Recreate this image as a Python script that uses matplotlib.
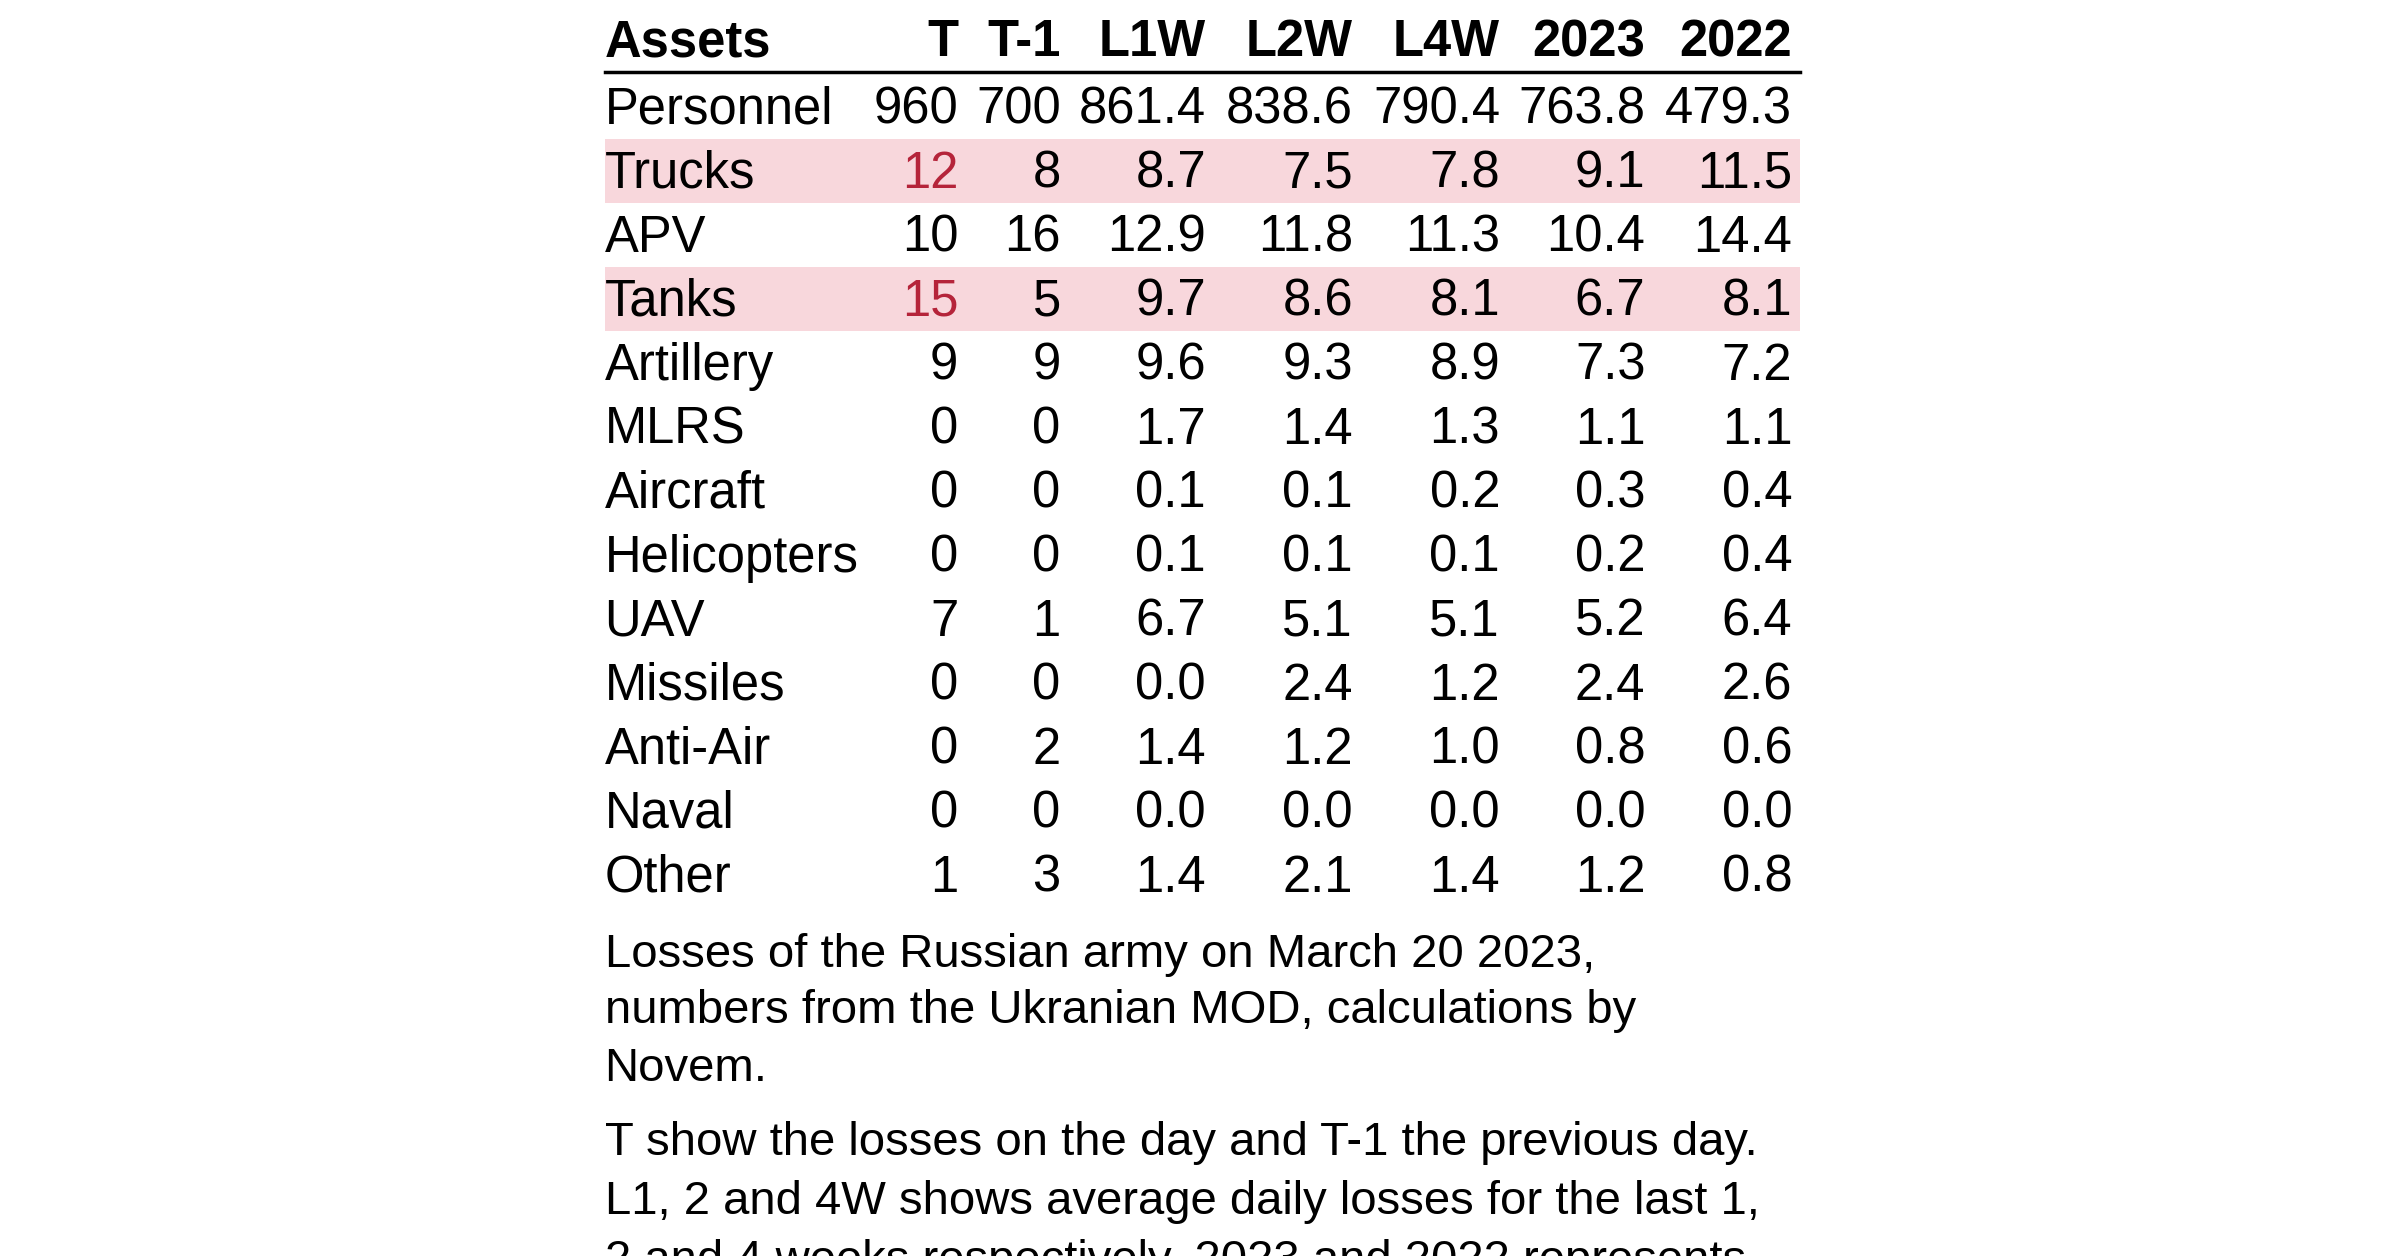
import matplotlib
matplotlib.use("Agg")
import matplotlib.pyplot as plt
from matplotlib.patches import Rectangle
from matplotlib.lines import Line2D

plt.rcParams['font.family'] = ['Liberation Sans', 'DejaVu Sans']

columns = ["T", "T-1", "L1W", "L2W", "L4W", "2023", "2022"]
assets = ["Personnel", "Trucks", "APV", "Tanks", "Artillery", "MLRS", "Aircraft",
          "Helicopters", "UAV", "Missiles", "Anti-Air", "Naval", "Other"]
T = ["960", "12", "10", "15", "9", "0", "0", "0", "7", "0", "0", "0", "1"]
T1 = ["700", "8", "16", "5", "9", "0", "0", "0", "1", "0", "2", "0", "3"]
L1W = ["861.4", "8.7", "12.9", "9.7", "9.6", "1.7", "0.1", "0.1", "6.7", "0.0", "1.4", "0.0", "1.4"]
L2W = ["838.6", "7.5", "11.8", "8.6", "9.3", "1.4", "0.1", "0.1", "5.1", "2.4", "1.2", "0.0", "2.1"]
L4W = ["790.4", "7.8", "11.3", "8.1", "8.9", "1.3", "0.2", "0.1", "5.1", "1.2", "1.0", "0.0", "1.4"]
Y2023 = ["763.8", "9.1", "10.4", "6.7", "7.3", "1.1", "0.3", "0.2", "5.2", "2.4", "0.8", "0.0", "1.2"]
Y2022 = ["479.3", "11.5", "14.4", "8.1", "7.2", "1.1", "0.4", "0.4", "6.4", "2.6", "0.6", "0.0", "0.8"]
highlight_rows = ["Trucks", "Tanks"]
red_cells = [("Trucks", 0), ("Tanks", 0)]
caption1 = ["Losses of the Russian army on March 20 2023,",
            "numbers from the Ukranian MOD, calculations by",
            "Novem."]
caption2 = ["T show the losses on the day and T-1 the previous day.",
            "L1, 2 and 4W shows average daily losses for the last 1,",
            "2 and 4 weeks respectively. 2023 and 2022 represents"]

W, H = 1568, 821
fig = plt.figure(figsize=(24, 12.56), dpi=100)
def fx(x): return x / W
def fy(y): return 1 - y / H

fs = 36.5
col_x = [626, 693, 788, 884, 980, 1075, 1171]
label_x = 395
data = [T, T1, L1W, L2W, L4W, Y2023, Y2022]

fig.text(fx(label_x), fy(28), "Assets", fontsize=fs, fontweight='bold', va='center', ha='left')
for c, x in zip(columns, col_x):
    fig.text(fx(x), fy(28), c, fontsize=fs, fontweight='bold', va='center', ha='right')
fig.add_artist(Line2D([fx(395), fx(1176)], [fy(47), fy(47)], color='black', lw=2.5))

step = 41.85
for i, a in enumerate(assets):
    yc = 72 + i * step
    if a in highlight_rows:
        fig.add_artist(Rectangle((fx(395), fy(yc - 2 + 21)), fx(1176) - fx(395), step / H,
                                 color='#f8d7dc', lw=0, zorder=0))
    fig.text(fx(label_x), fy(yc), a, fontsize=fs, va='center', ha='left')
    for j, x in enumerate(col_x):
        col = '#b5243a' if (a, j) in red_cells else 'black'
        fig.text(fx(x), fy(yc), data[j][i], fontsize=fs, va='center', ha='right', color=col)

cfs = 34
for k, line in enumerate(caption1):
    fig.text(fx(395), fy([624, 661, 699][k]), line, fontsize=cfs, va='center', ha='left')
for k, line in enumerate(caption2):
    fig.text(fx(395), fy([747, 786, 824][k]), line, fontsize=cfs, va='center', ha='left')

fig.savefig("out.png", dpi=100)
